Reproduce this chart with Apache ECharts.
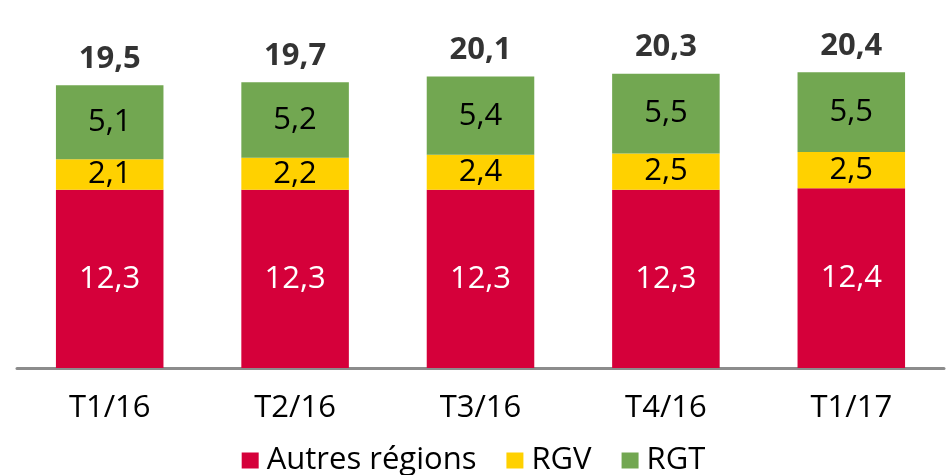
<!DOCTYPE html>
<html><head><meta charset="utf-8">
<script src="https://cdn.jsdelivr.net/npm/echarts@6/dist/echarts.min.js"></script>
<style>html,body{margin:0;padding:0;background:#fff}#c{width:947px;height:475px}</style>
</head><body><div id="c"></div>
<script>
var categories = ['T1/16','T2/16','T3/16','T4/16','T1/17'];
var autres = [12.3, 12.3, 12.3, 12.3, 12.4];
var rgv = [2.1, 2.2, 2.4, 2.5, 2.5];
var rgt = [5.1, 5.2, 5.4, 5.5, 5.5];
var totals = [19.5, 19.7, 20.1, 20.3, 20.4];

var FONT = 'Open Sans';
function fr(v){ return String(v.toFixed(1)).replace('.', ','); }
var chart = echarts.init(document.getElementById('c'), null, {renderer:'canvas'});
function seg(name, data, color){
  return {
    name: name, type: 'bar', stack: 'total', data: data, barWidth: '58%',
    itemStyle: {color: color},
    label: {show: true, position: 'inside', fontFamily: FONT, fontSize: 31,
      color: name === 'Autres régions' ? '#ffffff' : '#000000',
      formatter: function(p){ return fr(p.value); }},
    emphasis: {disabled: true}
  };
}
chart.setOption({
  animation: false,
  grid: {left: 17, right: 3, top: 49, bottom: 107, containLabel: false},
  legend: {
    data: ['Autres régions','RGV','RGT'], top: 440, left: 'center',
    itemWidth: 17, itemHeight: 16, itemGap: 30, icon: 'rect',
    textStyle: {fontFamily: FONT, fontSize: 31, lineHeight: 30, color: '#000', padding: [0,0,0,3]}
  },
  xAxis: {
    type: 'category', data: categories,
    axisLine: {lineStyle: {color: '#8c8c8c', width: 3}},
    axisTick: {show: false},
    axisLabel: {fontFamily: FONT, fontSize: 31, color: '#000', margin: 25}
  },
  yAxis: {type: 'value', min: 0, max: 22, show: false, splitLine: {show: false}},
  series: [
    seg('Autres régions', autres, '#D5003A'),
    seg('RGV', rgv, '#FFD100'),
    seg('RGT', rgt, '#72A751'),
    {
      name: 'Total', type: 'scatter', data: totals, symbolSize: 2,
      itemStyle: {color: 'rgba(0,0,0,0)'}, silent: true, z: 10,
      label: {show: true, position: 'top', distance: 10, fontFamily: FONT,
        fontWeight: 'bold', fontSize: 31, color: '#000',
        formatter: function(p){ return fr(p.value); }}
    }
  ]
});
</script></body></html>
